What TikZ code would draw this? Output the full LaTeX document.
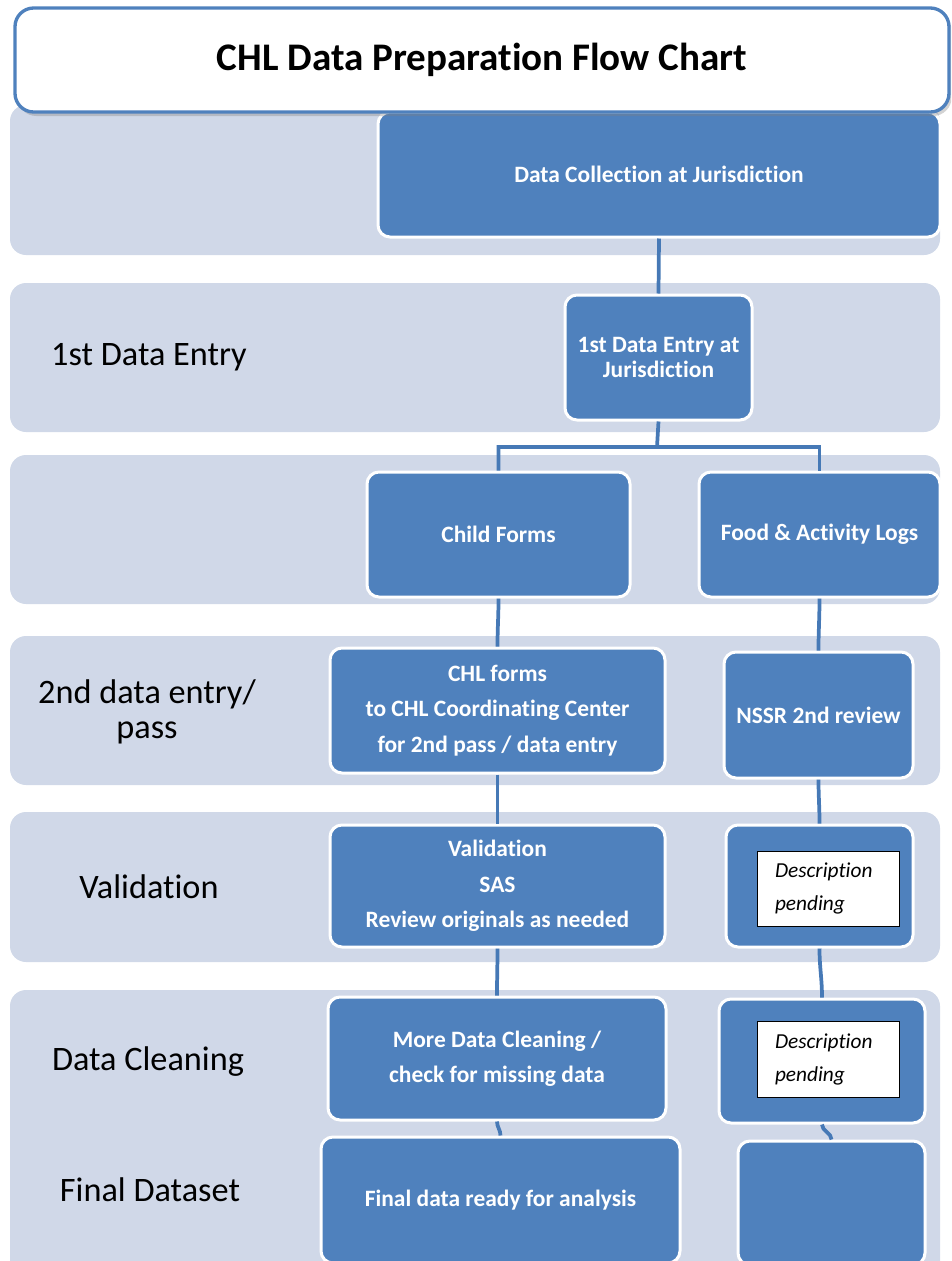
\documentclass[tikz,border=0pt]{standalone}
\usepackage{fontspec}
\setmainfont{Carlito}[Ligatures=NoCommon]
\usetikzlibrary{shadows}
\definecolor{chlblue}{HTML}{4F81BD}
\definecolor{chlband}{HTML}{D0D8E8}
\definecolor{chllinkblue}{HTML}{4679B6}
\tikzset{
  bandfill/.style={fill=chlband, rounded corners=12pt},
  stagebox/.style={rectangle, rounded corners=9pt, fill=chlblue, draw=white, line width=2.25pt,
    text=white, align=center, font=\fontsize{17.6}{26.5}\selectfont\bfseries},
  stagelabel/.style={align=center, font=\fontsize{25.7}{26.25}\selectfont},
  pendingbox/.style={rectangle, draw=black, fill=white, line width=0.6pt, align=left,
    inner xsep=13.5pt, text width=79.5pt, font=\fontsize{16}{24.75}\selectfont\itshape},
  titlebox/.style={rectangle, rounded corners=14pt, draw=chlblue, fill=white, line width=2.5pt,
    font=\fontsize{29.3}{36}\selectfont\bfseries,
    drop shadow={shadow xshift=2pt, shadow yshift=-3pt, opacity=0.35}},
  link/.style={draw=chllinkblue, line width=2.8pt}
}
\newcommand{\chlband}[2] {\fill [bandfill] (#1) rectangle (#2);}
\newcommand{\chlstagenode}[6][] {\node at (#2) (#3) [stagebox, minimum width=#4*0.75pt, minimum height=#5*0.75pt, #1] {#6};}
\newcommand{\chlpendingnode}[4] {\node at (#1) (#2) [pendingbox, minimum height=#3*0.75pt] {#4};}
\newcommand{\chllabel}[3] {\node at (#1) (#2) [stagelabel] {#3};}
\newcommand{\chllink}[2] {\draw [link] (#1) to[out=270, in=90] (#2);}

\begin{document}
\begin{tikzpicture}[x=0.75pt, y=-0.75pt]
\useasboundingbox (0,0) rectangle (951,1261);
\clip (0,0) rectangle (951,1261);

% stage bands
\chlband {10,105} {940,255};
\chlband {10,283} {940,432};
\chlband {10,455} {940,604};
\chlband {10,636} {940,785};
\chlband {10,812} {940,962};
\chlband {10,990} {940,1300};

% stage names
\chllabel {149,357} {lentry} {1st Data Entry};
\chllabel {147,712} {lpass} {2nd data entry/\\pass};
\chllabel {149,887} {lvalid} {Validation};
\chllabel {148,1062} {lclean} {Data Cleaning};
\chllabel {150,1190} {lfinal} {Final Dataset};

% boxes
\chlstagenode {659,174.5} {collect} {562} {125} {Data Collection at Jurisdiction};
\chlstagenode[font=\fontsize{17.6}{18.75}\selectfont\bfseries] {658.5,357.5} {entry} {187} {125} {1st Data Entry at\\Jurisdiction};
\chlstagenode {498.5,534.5} {child} {263} {125} {Child Forms};
\chlstagenode {819.5,534.5} {logs} {241} {125} {Food \& Activity Logs};
\chlstagenode {497.5,710.5} {chlforms} {335} {125} {CHL forms\\to CHL Coordinating Center\\for 2nd pass / data entry};
\chlstagenode {818.5,715} {nssr} {189} {126} {NSSR 2nd review};
\chlstagenode {497.5,886} {valid} {335} {122} {Validation\\SAS\\Review originals as needed};
\chlstagenode {819.5,886} {validr} {187} {122} {};
\chlstagenode {497,1058.5} {clean} {338} {123} {More Data Cleaning /\\check for missing data};
\chlstagenode {822,1061} {cleanr} {206} {124} {};
\chlstagenode {500.5,1200} {final} {359} {126} {Final data ready for analysis};
\chlstagenode {831.5,1203} {finalr} {187} {124} {};

\chlpendingnode {828,888.5} {pendvalid} {75} {Description\\pending};
\chlpendingnode {828,1059} {pendclean} {76} {Description\\pending};

% connectors
\coordinate (split) at (657,447);
\draw [link] (collect.south) -- (entry.north);
\draw [link] (entry.south) -- (split) -| (child.north);
\draw [link] (split) -| (logs.north);
\chllink {child.south} {chlforms.north};
\chllink {logs.south} {nssr.north};
\chllink {chlforms.south} {valid.north};
\chllink {nssr.south} {validr.north};
\chllink {valid.south} {clean.north};
\chllink {validr.south} {cleanr.north};
\chllink {clean.south} {final.north};
\chllink {cleanr.south} {finalr.north};

% title
\node at (482,60) (title) [titlebox, minimum width=934*0.75pt, minimum height=104*0.75pt] {CHL Data Preparation Flow Chart};

\end{tikzpicture}
\end{document}
